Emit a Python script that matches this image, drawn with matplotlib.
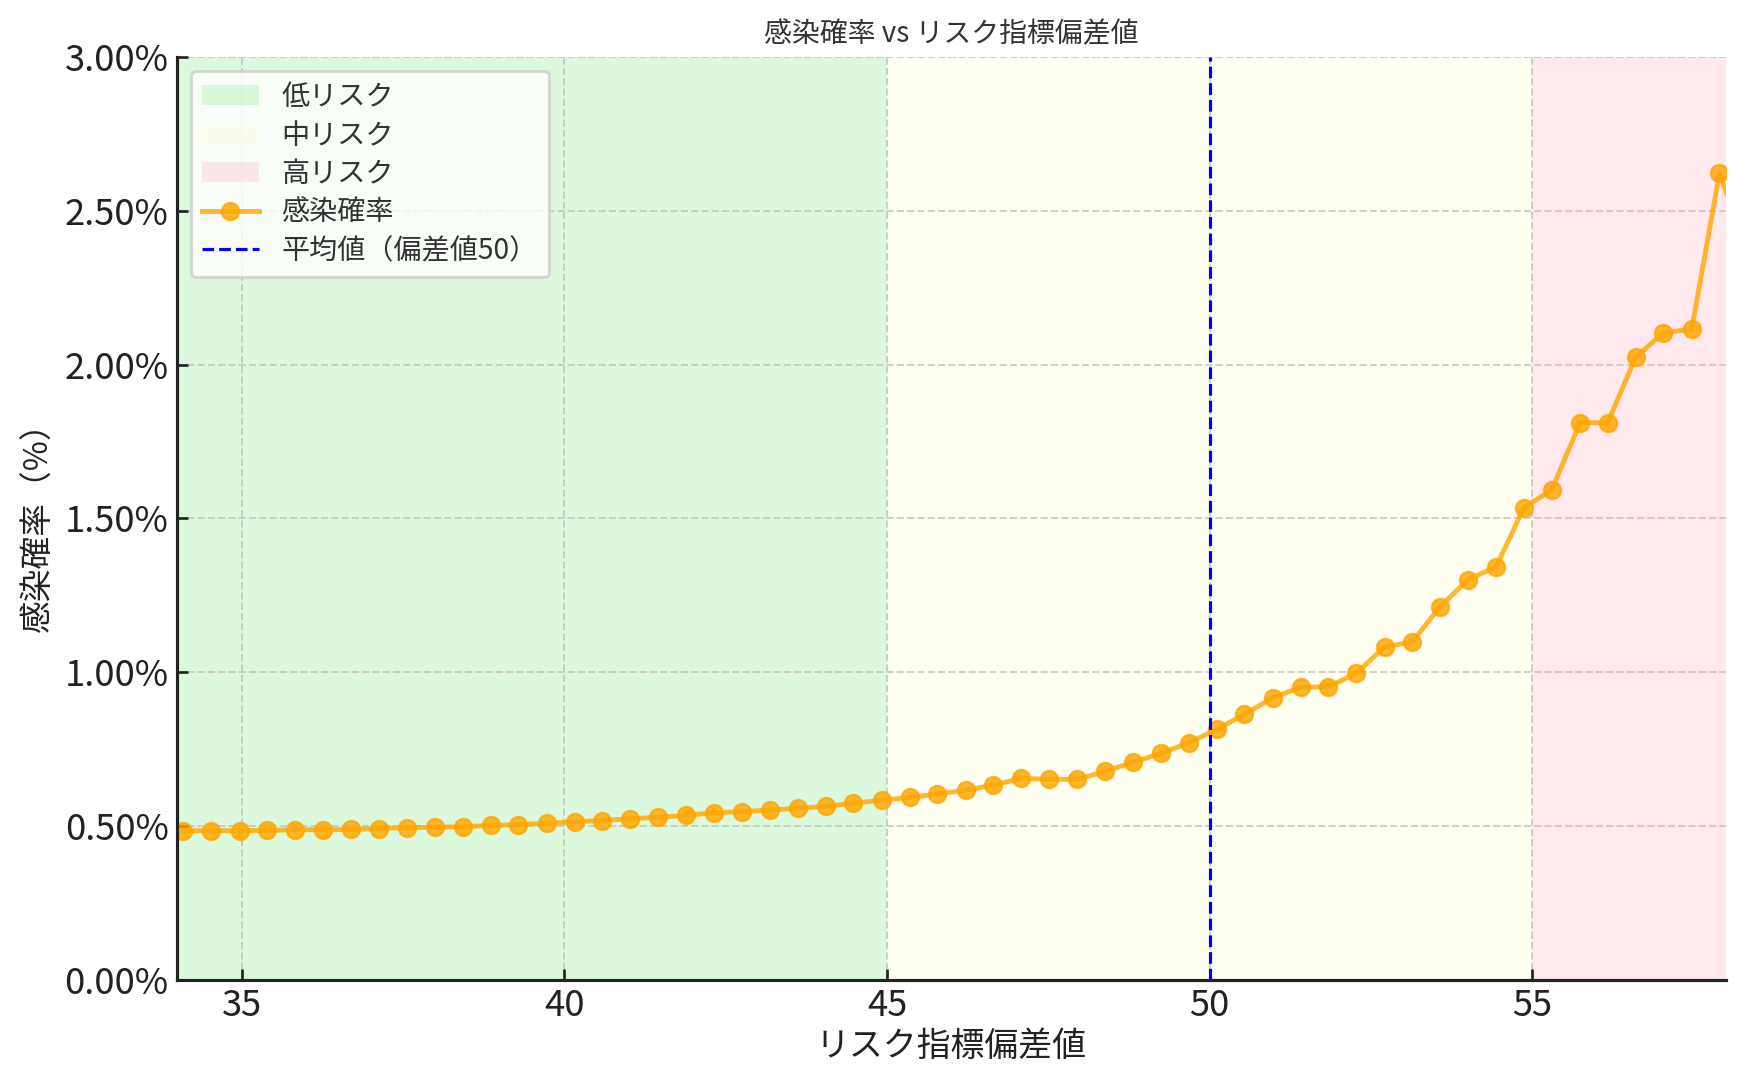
import numpy as np
import matplotlib
matplotlib.use("Agg")
import matplotlib.pyplot as plt
from matplotlib.ticker import PercentFormatter

plt.rcParams['font.family'] = ['Noto Sans CJK JP', 'DejaVu Sans']

# リスク指標偏差値 (x) と 感染確率 (%)
deviation = [34.10, 34.53, 34.97, 35.40, 35.83, 36.26, 36.70, 37.13, 37.56, 37.99,
             38.43, 38.86, 39.29, 39.73, 40.16, 40.59, 41.02, 41.46, 41.89, 42.32,
             42.75, 43.19, 43.62, 44.05, 44.48, 44.92, 45.35, 45.78, 46.22, 46.65,
             47.08, 47.51, 47.95, 48.38, 48.81, 49.24, 49.68, 50.11, 50.54, 50.98,
             51.41, 51.84, 52.27, 52.71, 53.14, 53.57, 54.00, 54.44, 54.87, 55.30,
             55.74, 56.17, 56.60, 57.03, 57.47, 57.90, 58.33]
infection_pct = [0.485, 0.485, 0.485, 0.486, 0.488, 0.488, 0.489, 0.492, 0.495, 0.496,
                 0.498, 0.502, 0.505, 0.509, 0.514, 0.518, 0.524, 0.528, 0.535, 0.543,
                 0.547, 0.552, 0.558, 0.564, 0.574, 0.584, 0.593, 0.604, 0.617, 0.633,
                 0.655, 0.652, 0.652, 0.678, 0.707, 0.736, 0.771, 0.814, 0.863, 0.917,
                 0.951, 0.953, 0.996, 1.082, 1.099, 1.213, 1.300, 1.343, 1.535, 1.592,
                 1.811, 1.811, 2.024, 2.103, 2.115, 2.621, 2.370]

zones = [(34, 45, 'lightgreen', 0.3, '低リスク'),
         (45, 55, 'lightyellow', 0.4, '中リスク'),
         (55, 58, 'pink', 0.35, '高リスク')]
mean_value = 50

fig, ax = plt.subplots(figsize=(10, 1084 / 174.6), dpi=174.6)
fig.subplots_adjust(left=0.1014, right=0.9885, top=0.9476, bottom=0.0960)

for lo, hi, c, a, lab in zones:
    ax.axvspan(lo, hi, color=c, alpha=a, label=lab, lw=0)

ax.plot(deviation, infection_pct, marker='o', color='orange', alpha=0.8,
        linewidth=2, markersize=7, label='感染確率')
ax.axvline(mean_value, color='blue', linestyle='--', linewidth=1.3,
           label='平均値（偏差値50）')

ax.set_xlim(34, 58)
ax.set_ylim(0, 3.0)
ax.yaxis.set_major_formatter(PercentFormatter(xmax=100, decimals=2))
ax.set_xticks([35, 40, 45, 50, 55])

ax.set_title('感染確率 vs リスク指標偏差値', fontsize=11.5, color='#333333')
ax.set_xlabel('リスク指標偏差値', fontsize=14, color='#222222', labelpad=2)
ax.set_ylabel('感染確率（%）', fontsize=13.5, color='#222222')

ax.grid(True, linestyle='--', color='#bbbbbb', alpha=0.7, linewidth=0.8)
for side in ['top', 'right']:
    ax.spines[side].set_visible(False)
for side in ['left', 'bottom']:
    ax.spines[side].set_linewidth(1.3)
    ax.spines[side].set_color('#222222')
ax.tick_params(direction='in', length=4.5, width=1.1, labelsize=15, colors='#222222')

leg = ax.legend(loc='upper left', fontsize=11.6, frameon=True, fancybox=True,
                labelspacing=0.3, borderpad=0.4)
leg.get_frame().set_edgecolor('#cccccc')
leg.get_frame().set_linewidth(1.2)
for t in leg.get_texts():
    t.set_color('#333333')

fig.savefig('out.png', dpi=174.6)
